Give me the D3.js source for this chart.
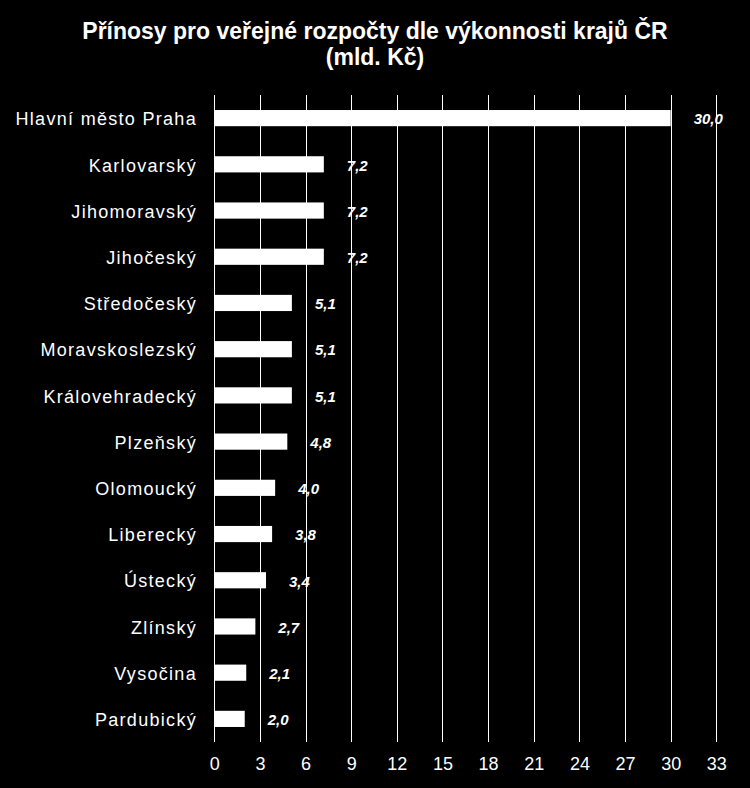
<!DOCTYPE html>
<html>
<head>
<meta charset="utf-8">
<script src="https://cdn.jsdelivr.net/npm/d3@7"></script>
<style>
  html, body { margin: 0; padding: 0; background: #000; }
  svg { display: block; }
</style>
</head>
<body>
<div id="chart"></div>
<script>
const categories = ["Hlavní město Praha", "Karlovarský", "Jihomoravský", "Jihočeský", "Středočeský", "Moravskoslezský", "Královehradecký", "Plzeňský", "Olomoucký", "Liberecký", "Ústecký", "Zlínský", "Vysočina", "Pardubický"];
const values = [30.0, 7.2, 7.2, 7.2, 5.1, 5.1, 5.1, 4.8, 4.0, 3.8, 3.4, 2.7, 2.1, 2.0];
const xTicks = [0, 3, 6, 9, 12, 15, 18, 21, 24, 27, 30, 33];
const titleLines = ["Přínosy pro veřejné rozpočty dle výkonnosti krajů ČR", "(mld. Kč)"];

const W = 750, H = 788;
const font = "'Liberation Sans', Arial, sans-serif";

const svg = d3.select("#chart").append("svg")
  .attr("width", W).attr("height", H)
  .style("background", "#000");

const x = d3.scaleLinear().domain([0, 33]).range([214.3, 716.3]);
const y = d3.scaleBand().domain(categories).range([95, 742])
  .paddingInner(0.65).paddingOuter(0.325);

// title
svg.append("g").selectAll("text").data(titleLines).join("text")
  .attr("x", 375).attr("y", (d, i) => 39 + i * 26)
  .attr("text-anchor", "middle")
  .attr("fill", "#fff")
  .style("font-family", font).style("font-weight", "bold").style("font-size", "23px")
  .text(d => d);

// gridlines
svg.append("g").selectAll("line").data(xTicks).join("line")
  .attr("x1", d => Math.round(x(d)) + 0.5).attr("x2", d => Math.round(x(d)) + 0.5)
  .attr("y1", 95).attr("y2", 742)
  .attr("stroke", "#fff").attr("stroke-width", 1);

// x axis labels
const xAxis = d3.axisBottom(x).tickValues(xTicks).tickSize(0).tickPadding(0).tickFormat(d3.format("d"));
const gx = svg.append("g").attr("transform", "translate(0,756)").call(xAxis);
gx.select(".domain").remove();
gx.selectAll("text").attr("fill", "#fff").attr("dy", "0").attr("y", 14)
  .style("font-family", font).style("font-size", "18px");

// y axis labels
const yAxis = d3.axisLeft(y).tickSize(0).tickPadding(0);
const gy = svg.append("g").attr("transform", "translate(197,0)").call(yAxis);
gy.select(".domain").remove();
gy.selectAll("text").attr("fill", "#fff").attr("dy", "0.4em")
  .style("font-family", font).style("font-size", "18px").style("letter-spacing", "1.3px");

// bars
svg.append("g").selectAll("rect").data(values).join("rect")
  .attr("x", x(0))
  .attr("y", (d, i) => y(categories[i]))
  .attr("width", d => x(d) - x(0))
  .attr("height", y.bandwidth())
  .attr("fill", "#fff");

// value labels
const fmt = d => d.toFixed(1).replace(".", ",");
svg.append("g").selectAll("text").data(values).join("text")
  .attr("x", d => x(d) + 23)
  .attr("y", (d, i) => y(categories[i]) + y.bandwidth() / 2)
  .attr("dy", "0.42em")
  .attr("fill", "#fff")
  .style("font-family", font).style("font-weight", "bold").style("font-style", "italic").style("font-size", "15px")
  .text(fmt);
</script>
</body>
</html>
